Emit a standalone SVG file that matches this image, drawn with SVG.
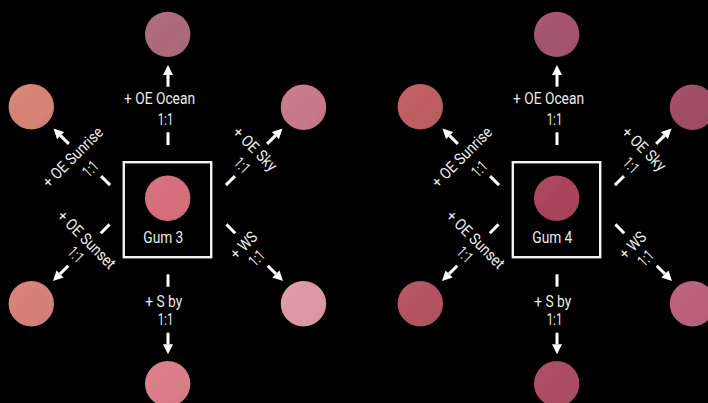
<svg xmlns="http://www.w3.org/2000/svg" width="708" height="403" viewBox="0 0 708 403">
  <defs>
    <style>
      .bg { fill: #000000; }
      .swatch { stroke: none; }
      .shade { fill: url(#sheen); }
      .frame { fill: none; stroke: #f4f4f4; stroke-width: 2.4; }
      .shaft { stroke: #ffffff; stroke-width: 3; fill: none; }
      .dash { stroke: #ffffff; stroke-width: 3; }
      .lbl { fill: #ececec; font-family: Roboto, "Liberation Sans", sans-serif; font-size: 16px; text-anchor: middle; }
      .name { fill: #ececec; font-family: Roboto, "Liberation Sans", sans-serif; font-size: 17px; text-anchor: middle; }
    </style>
    <marker id="head" viewBox="0 0 10 10" refX="0" refY="5" markerWidth="10" markerHeight="10" markerUnits="userSpaceOnUse" orient="auto">
      <path d="M0,0 L10,5 L0,10 Z" fill="#ffffff"/>
    </marker>
    <linearGradient id="sheen" x1="0" y1="0" x2="1" y2="1">
      <stop offset="0" stop-color="#ffffff" stop-opacity="0.06"/>
      <stop offset="0.5" stop-color="#ffffff" stop-opacity="0"/>
      <stop offset="1" stop-color="#000000" stop-opacity="0.08"/>
    </linearGradient>
  </defs>

  <rect class="bg" x="0" y="0" width="708" height="403"/>

  <!-- Panel 1: Gum 3 mixes -->
  <g id="panel-gum3">
    <g id="connectors-gum3">
      <!-- up -->
      <g transform="translate(168,65)">
        <line class="shaft" x1="0" y1="21.7" x2="0" y2="10" marker-end="url(#head)"/>
        <line class="dash" x1="0" y1="67.3" x2="0" y2="80"/>
        <text class="lbl" x="-8.5" y="39.3" textLength="71" lengthAdjust="spacingAndGlyphs">+ OE Ocean</text>
        <text class="lbl" x="-2.5" y="60" textLength="15.6" lengthAdjust="spacingAndGlyphs">1:1</text>
      </g>
      <!-- up-left -->
      <g transform="translate(53.5,128.5) rotate(-45)">
        <line class="shaft" x1="0" y1="21.7" x2="0" y2="10" marker-end="url(#head)"/>
        <line class="dash" x1="0" y1="67.3" x2="0" y2="80"/>
        <text class="lbl" x="-6.5" y="39.3" textLength="78" lengthAdjust="spacingAndGlyphs">+ OE Sunrise</text>
        <text class="lbl" x="-2.5" y="60" textLength="15.6" lengthAdjust="spacingAndGlyphs">1:1</text>
      </g>
      <!-- up-right -->
      <g transform="translate(282.5,128.5) rotate(45)">
        <line class="shaft" x1="0" y1="21.7" x2="0" y2="10" marker-end="url(#head)"/>
        <line class="dash" x1="0" y1="67.3" x2="0" y2="80"/>
        <text class="lbl" x="-5" y="39.3" textLength="55" lengthAdjust="spacingAndGlyphs">+ OE Sky</text>
        <text class="lbl" x="-2.5" y="60" textLength="15.6" lengthAdjust="spacingAndGlyphs">1:1</text>
      </g>
      <!-- down -->
      <g transform="translate(168,354.3)">
        <line class="shaft" x1="0" y1="-21.6" x2="0" y2="-10" marker-end="url(#head)"/>
        <line class="dash" x1="0" y1="-80" x2="0" y2="-67.6"/>
        <text class="lbl" x="-4.3" y="-47.6" textLength="37" lengthAdjust="spacingAndGlyphs">+ S by</text>
        <text class="lbl" x="-2.5" y="-29.3" textLength="15.6" lengthAdjust="spacingAndGlyphs">1:1</text>
      </g>
      <!-- down-left -->
      <g transform="translate(53,281) rotate(45)">
        <line class="shaft" x1="0" y1="-21.6" x2="0" y2="-10" marker-end="url(#head)"/>
        <line class="dash" x1="0" y1="-80" x2="0" y2="-67.6"/>
        <text class="lbl" x="-5.5" y="-47.6" textLength="75" lengthAdjust="spacingAndGlyphs">+ OE Sunset</text>
        <text class="lbl" x="-2.5" y="-29.3" textLength="15.6" lengthAdjust="spacingAndGlyphs">1:1</text>
      </g>
      <!-- down-right -->
      <g transform="translate(283,281) rotate(-45)">
        <line class="shaft" x1="0" y1="-21.6" x2="0" y2="-10" marker-end="url(#head)"/>
        <line class="dash" x1="0" y1="-80" x2="0" y2="-67.6"/>
        <text class="lbl" x="-2.5" y="-47.6" textLength="31" lengthAdjust="spacingAndGlyphs">+ WS</text>
        <text class="lbl" x="-2.5" y="-29.3" textLength="15.6" lengthAdjust="spacingAndGlyphs">1:1</text>
      </g>
    </g>

    <g id="gum3">
      <rect class="frame" x="123.8" y="162.2" width="87.4" height="95"/>
      <circle class="swatch" cx="167.7" cy="198.3" r="22.7" fill="#d46e7a"/>
      <circle class="shade" cx="167.7" cy="198.3" r="22.7"/>
      <text class="name" x="163.3" y="242.7" textLength="40" lengthAdjust="spacingAndGlyphs">Gum 3</text>
    </g>
    <g id="gum3-ocean">
      <circle class="swatch" cx="167.7" cy="34.4" r="22.7" fill="#ac687a"/>
      <circle class="shade" cx="167.7" cy="34.4" r="22.7"/>
    </g>
    <g id="gum3-sunrise">
      <circle class="swatch" cx="31.3" cy="106.7" r="22.7" fill="#d68273"/>
      <circle class="shade" cx="31.3" cy="106.7" r="22.7"/>
    </g>
    <g id="gum3-sky">
      <circle class="swatch" cx="303.5" cy="107.2" r="22.7" fill="#c87887"/>
      <circle class="shade" cx="303.5" cy="107.2" r="22.7"/>
    </g>
    <g id="gum3-sunset">
      <circle class="swatch" cx="31.3" cy="303.7" r="22.7" fill="#d68075"/>
      <circle class="shade" cx="31.3" cy="303.7" r="22.7"/>
    </g>
    <g id="gum3-ws">
      <circle class="swatch" cx="303.5" cy="303.7" r="22.7" fill="#dc98a3"/>
      <circle class="shade" cx="303.5" cy="303.7" r="22.7"/>
    </g>
    <g id="gum3-sby">
      <circle class="swatch" cx="167.7" cy="383.7" r="22.7" fill="#da7c87"/>
      <circle class="shade" cx="167.7" cy="383.7" r="22.7"/>
    </g>
  </g>

  <!-- Panel 2: Gum 4 mixes -->
  <g id="panel-gum4" transform="translate(389,0)">
    <g id="connectors-gum4">
      <g transform="translate(168,65)">
        <line class="shaft" x1="0" y1="21.7" x2="0" y2="10" marker-end="url(#head)"/>
        <line class="dash" x1="0" y1="67.3" x2="0" y2="80"/>
        <text class="lbl" x="-8.5" y="39.3" textLength="71" lengthAdjust="spacingAndGlyphs">+ OE Ocean</text>
        <text class="lbl" x="-2.5" y="60" textLength="15.6" lengthAdjust="spacingAndGlyphs">1:1</text>
      </g>
      <g transform="translate(53.5,128.5) rotate(-45)">
        <line class="shaft" x1="0" y1="21.7" x2="0" y2="10" marker-end="url(#head)"/>
        <line class="dash" x1="0" y1="67.3" x2="0" y2="80"/>
        <text class="lbl" x="-6.5" y="39.3" textLength="78" lengthAdjust="spacingAndGlyphs">+ OE Sunrise</text>
        <text class="lbl" x="-2.5" y="60" textLength="15.6" lengthAdjust="spacingAndGlyphs">1:1</text>
      </g>
      <g transform="translate(282.5,128.5) rotate(45)">
        <line class="shaft" x1="0" y1="21.7" x2="0" y2="10" marker-end="url(#head)"/>
        <line class="dash" x1="0" y1="67.3" x2="0" y2="80"/>
        <text class="lbl" x="-5" y="39.3" textLength="55" lengthAdjust="spacingAndGlyphs">+ OE Sky</text>
        <text class="lbl" x="-2.5" y="60" textLength="15.6" lengthAdjust="spacingAndGlyphs">1:1</text>
      </g>
      <g transform="translate(168,354.3)">
        <line class="shaft" x1="0" y1="-21.6" x2="0" y2="-10" marker-end="url(#head)"/>
        <line class="dash" x1="0" y1="-80" x2="0" y2="-67.6"/>
        <text class="lbl" x="-4.3" y="-47.6" textLength="37" lengthAdjust="spacingAndGlyphs">+ S by</text>
        <text class="lbl" x="-2.5" y="-29.3" textLength="15.6" lengthAdjust="spacingAndGlyphs">1:1</text>
      </g>
      <g transform="translate(53,281) rotate(45)">
        <line class="shaft" x1="0" y1="-21.6" x2="0" y2="-10" marker-end="url(#head)"/>
        <line class="dash" x1="0" y1="-80" x2="0" y2="-67.6"/>
        <text class="lbl" x="-5.5" y="-47.6" textLength="75" lengthAdjust="spacingAndGlyphs">+ OE Sunset</text>
        <text class="lbl" x="-2.5" y="-29.3" textLength="15.6" lengthAdjust="spacingAndGlyphs">1:1</text>
      </g>
      <g transform="translate(283,281) rotate(-45)">
        <line class="shaft" x1="0" y1="-21.6" x2="0" y2="-10" marker-end="url(#head)"/>
        <line class="dash" x1="0" y1="-80" x2="0" y2="-67.6"/>
        <text class="lbl" x="-2.5" y="-47.6" textLength="31" lengthAdjust="spacingAndGlyphs">+ WS</text>
        <text class="lbl" x="-2.5" y="-29.3" textLength="15.6" lengthAdjust="spacingAndGlyphs">1:1</text>
      </g>
    </g>

    <g id="gum4">
      <rect class="frame" x="123.8" y="162.2" width="87.4" height="95"/>
      <circle class="swatch" cx="167.7" cy="198.3" r="22.7" fill="#a8425a"/>
      <circle class="shade" cx="167.7" cy="198.3" r="22.7"/>
      <text class="name" x="163.3" y="242.7" textLength="40" lengthAdjust="spacingAndGlyphs">Gum 4</text>
    </g>
    <g id="gum4-ocean">
      <circle class="swatch" cx="167.7" cy="34.4" r="22.7" fill="#a2526e"/>
      <circle class="shade" cx="167.7" cy="34.4" r="22.7"/>
    </g>
    <g id="gum4-sunrise">
      <circle class="swatch" cx="31.3" cy="106.7" r="22.7" fill="#be5c60"/>
      <circle class="shade" cx="31.3" cy="106.7" r="22.7"/>
    </g>
    <g id="gum4-sky">
      <circle class="swatch" cx="303.5" cy="107.2" r="22.7" fill="#a04a64"/>
      <circle class="shade" cx="303.5" cy="107.2" r="22.7"/>
    </g>
    <g id="gum4-sunset">
      <circle class="swatch" cx="31.3" cy="303.7" r="22.7" fill="#b4525e"/>
      <circle class="shade" cx="31.3" cy="303.7" r="22.7"/>
    </g>
    <g id="gum4-ws">
      <circle class="swatch" cx="303.5" cy="303.7" r="22.7" fill="#bc5e7a"/>
      <circle class="shade" cx="303.5" cy="303.7" r="22.7"/>
    </g>
    <g id="gum4-sby">
      <circle class="swatch" cx="167.7" cy="383.7" r="22.7" fill="#ac4a60"/>
      <circle class="shade" cx="167.7" cy="383.7" r="22.7"/>
    </g>
  </g>
</svg>
